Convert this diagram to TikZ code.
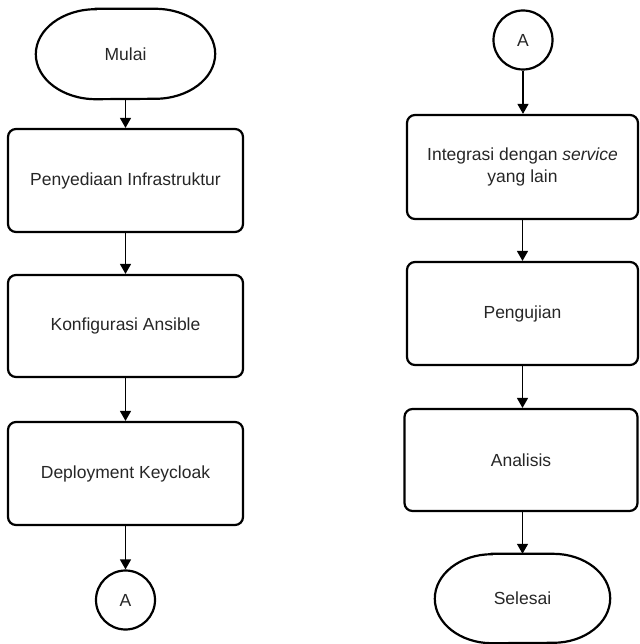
\documentclass[tikz,border=0pt]{standalone}
\usepackage{fontspec}
\setmainfont{Liberation Sans}
\usetikzlibrary{arrows.meta}
\begin{document}
\begin{tikzpicture}[x=1pt,y=-1pt,
  every node/.style={font=\fontsize{17.5}{21}\selectfont, text=black!85},
  procbox/.style={draw, line width=2.2pt, rounded corners=8pt, minimum height=103pt, align=center, inner sep=0pt},
  term/.style={minimum width=179pt, minimum height=90pt, inner sep=0pt},
  shapeline/.style={draw, line width=2.2pt},
  conn/.style={draw, circle, line width=2.2pt, minimum size=59pt, inner sep=0pt},
  flow/.style={line width=1.4pt, -{Triangle[length=10pt,width=11pt]}}
]
\useasboundingbox (0,0) rectangle (639,644);
% left column
\node[term] (mulai) at (125.5,54) {Mulai};
\draw[shapeline] ([xshift=60pt]mulai.north west) -- ([xshift=-60pt]mulai.north east)
  arc[start angle=90,end angle=-90,x radius=60pt,y radius=45pt]
  -- ([xshift=60pt]mulai.south west)
  arc[start angle=270,end angle=90,x radius=60pt,y radius=45pt] -- cycle;
\node[procbox, minimum width=235pt] (infra) at (125.5,180.5) {Penyediaan Infrastruktur};
\node[procbox, minimum width=235pt, minimum height=102pt] (ansible) at (125.5,326) {Konfigurasi Ansible};
\node[procbox, minimum width=235pt] (deploy) at (125.5,473.5) {Deployment Keycloak};
\node[conn] (a1) at (125.5,600) {A};
% right column
\node[conn] (a2) at (523,40) {A};
\node[procbox, minimum width=231pt, minimum height=104pt] (integ) at (522.5,167) {Integrasi dengan \textit{service}\\[1pt]yang lain};
\node[procbox, minimum width=231pt] (uji) at (522.5,313.5) {Pengujian};
\node[procbox, minimum width=233pt, minimum height=102pt] (analisis) at (521,460) {Analisis};
\node[term, minimum width=175pt, minimum height=89pt] (selesai) at (522.5,598.5) {Selesai};
\draw[shapeline] ([xshift=57pt]selesai.north west) -- ([xshift=-57pt]selesai.north east)
  arc[start angle=90,end angle=-90,x radius=57pt,y radius=44.5pt]
  -- ([xshift=57pt]selesai.south west)
  arc[start angle=270,end angle=90,x radius=57pt,y radius=44.5pt] -- cycle;
% connectors
\draw[flow] (mulai.south) -- (infra.north);
\draw[flow] (infra.south) -- (ansible.north);
\draw[flow] (ansible.south) -- (deploy.north);
\draw[flow] (deploy.south) -- (a1.north);
\draw[flow] (a2.south) -- (a2.south |- integ.north);
\draw[flow] (integ.south) -- (integ.south |- uji.north);
\draw[flow] (uji.south) -- (uji.south |- analisis.north);
\draw[flow] (uji.south |- analisis.south) -- (uji.south |- selesai.north);
\end{tikzpicture}
\end{document}
